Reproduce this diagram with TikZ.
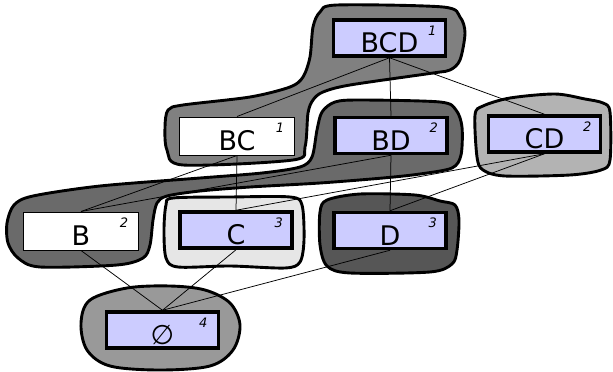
\documentclass[tikz,border=0pt]{standalone}
\usepackage{fontspec}
\setmainfont{DejaVu Sans}
\definecolor{boxblue}{HTML}{CCCCFF}
\definecolor{gA}{HTML}{808080}
\definecolor{gB}{HTML}{6A6A6A}
\definecolor{gC}{HTML}{E6E6E6}
\definecolor{gD}{HTML}{565656}
\definecolor{gCD}{HTML}{B3B3B3}
\definecolor{gE}{HTML}{999999}
\tikzset{
  blob/.style={draw=black, line width=2.9pt, line join=round},
  boxbase/.style={inner sep=0pt, text height=29pt, text depth=0pt,
    font=\fontsize{27}{27}\selectfont},
  hbox/.style={boxbase, draw=black, line width=3.5pt, fill=boxblue,
    minimum width=112pt, minimum height=36pt},
  wbox/.style={boxbase, draw=black, line width=1pt, fill=white,
    minimum width=115pt, minimum height=38pt},
  supnum/.style={font=\fontsize{13}{13}\selectfont\itshape, anchor=base, inner sep=0pt},
  link/.style={draw=black, line width=0.75pt}
}
\begin{document}
\begin{tikzpicture}[x=1pt,y=-1pt]
\useasboundingbox (0,0) rectangle (613,372);
% blobs
\draw[blob, fill=gA] plot[smooth cycle, tension=0.5] coordinates {
 (167,150) (183,165) (293,160) (305,147) (308,113) (313,100) (323,92)
 (350,85) (433,73) (450,70) (460,60) (465,33) (460,17) (443,7) (337,5)
 (320,12) (313,27) (310,57) (303,77) (290,87) (250,97) (183,105) (168,110) (165,127)};
\draw[blob, fill=gB] plot[smooth cycle, tension=0.5] coordinates {
 (322,112) (335,102) (360,100) (440,102) (456,110) (462,127) (461,155)
 (452,168) (420,174) (383,178) (320,183) (250,187) (200,191) (167,196)
 (157,203) (153,220) (150,245) (143,258) (117,265) (40,267) (18,258)
 (8,243) (7,223) (14,205) (33,196) (100,186) (200,178) (262,173)
 (300,167) (312,157) (317,130)};
\draw[blob, fill=gC] plot[smooth cycle, tension=0.5] coordinates {
 (173,198) (230,197) (290,197) (302,205) (304,240) (300,262) (285,268)
 (230,266) (178,267) (166,258) (164,230) (166,205)};
\draw[blob, fill=gD] plot[smooth cycle, tension=0.5] coordinates {
 (327,200) (360,194) (415,195) (440,201) (455,205) (459,220) (457,250)
 (452,264) (430,272) (350,273) (327,266) (320,245) (320,212)};
\draw[blob, fill=gCD] plot[smooth cycle, tension=0.5] coordinates {
 (483,106) (510,98) (555,94) (585,99) (603,103) (610,112) (610,160)
 (601,170) (570,175) (505,176) (483,170) (477,157) (475,115)};
\draw[blob, fill=gE] plot[smooth cycle, tension=0.55] coordinates {
 (90,300) (127,288) (170,286) (205,290) (230,303) (240,325) (233,350)
 (210,366) (160,370) (110,366) (87,350) (81,323)};
% boxes
\node[hbox] (bcd) at (389.5,38) {BCD};
\node[wbox] (bc)  at (237,136) {BC};
\node[hbox] (bd)  at (391,135.5) {BD};
\node[hbox] (cd)  at (544.5,134) {CD};
\node[wbox] (b)   at (81,231) {B};
\node[hbox] (c)   at (236,230) {C};
\node[hbox] (d)   at (390,230.5) {D};
\node[hbox] (e)   at (162.5,330) {∅};
% numbers
\node[supnum] (bcdn) at ([xshift=-15pt,yshift=-17pt]bcd.north east) {1};
\node[supnum] (bcn)  at ([xshift=-15pt,yshift=-16pt]bc.north east) {1};
\node[supnum] (bdn)  at ([xshift=-15pt,yshift=-17pt]bd.north east) {2};
\node[supnum] (cdn)  at ([xshift=-15pt,yshift=-17pt]cd.north east) {2};
\node[supnum] (bn)   at ([xshift=-15pt,yshift=-16pt]b.north east) {2};
\node[supnum] (cn)   at ([xshift=-15pt,yshift=-17pt]c.north east) {3};
\node[supnum] (dn)   at ([xshift=-15pt,yshift=-17pt]d.north east) {3};
\node[supnum] (en)   at ([xshift=-17pt,yshift=-17pt]e.north east) {4};
% links
\draw[link] (bcd.south) -- (bc.north);
\draw[link] (bcd.south) -- (bd.north);
\draw[link] (bcd.south) -- (cd.north);
\draw[link] (bc.south) -- (b.north);
\draw[link] (bc.south) -- (c.north);
\draw[link] (bd.south) -- (b.north);
\draw[link] (bd.south) -- (d.north);
\draw[link] (cd.south) -- (c.north);
\draw[link] (cd.south) -- (d.north);
\draw[link] (b.south) -- (e.north);
\draw[link] (c.south) -- (e.north);
\draw[link] (d.south) -- (e.north);
\end{tikzpicture}
\end{document}
